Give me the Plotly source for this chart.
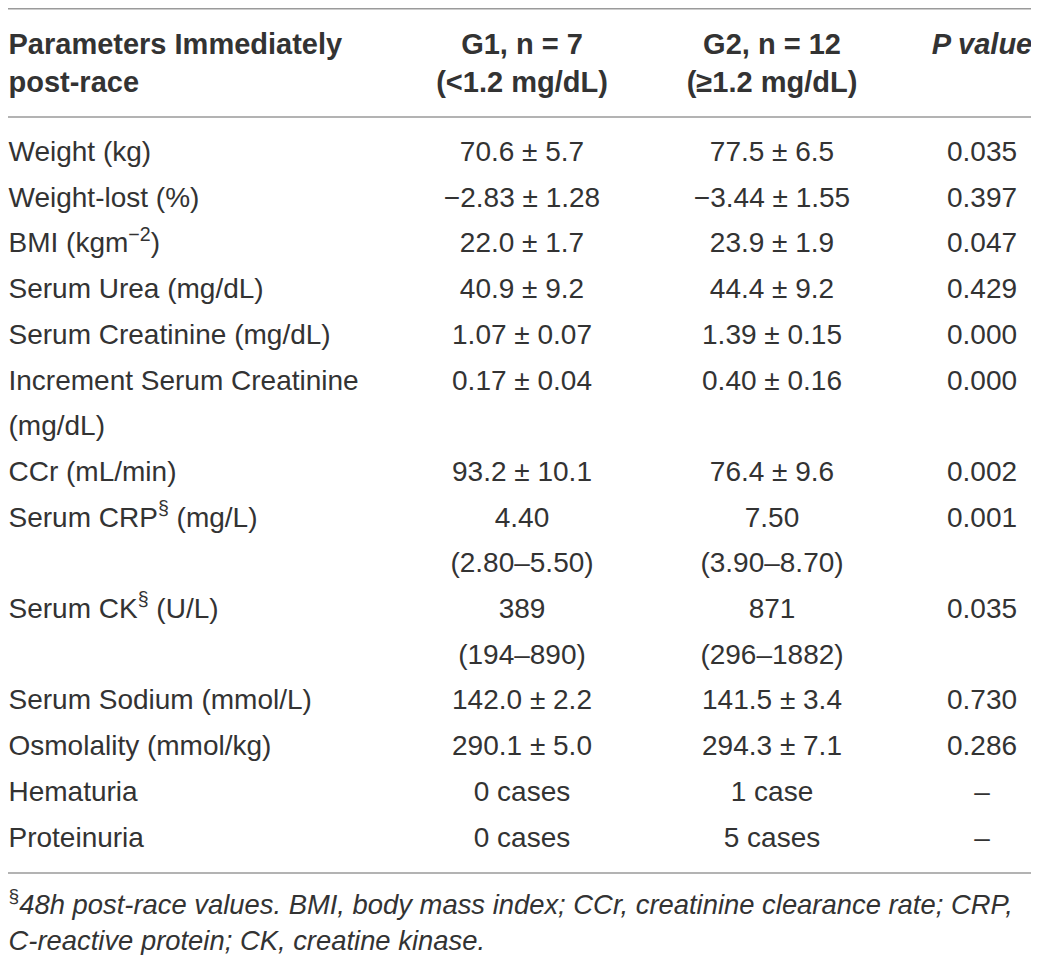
import plotly.graph_objects as go

# --- table content ---
HEADERS = ["<b>Parameters Immediately<br>post-race</b>",
           "<b>G1, n = 7<br>(<1.2 mg/dL)</b>",
           "<b>G2, n = 12<br>(≥1.2 mg/dL)</b>",
           "<b><i>P value</i></b>"]

PARAMS = ["Weight (kg)", "Weight-lost (%)", "BMI (kgm<sup>−2</sup>)",
          "Serum Urea (mg/dL)", "Serum Creatinine (mg/dL)",
          "Increment Serum Creatinine<br>(mg/dL)", "CCr (mL/min)",
          "Serum CRP<sup>§</sup> (mg/L)", "Serum CK<sup>§</sup> (U/L)",
          "Serum Sodium (mmol/L)", "Osmolality (mmol/kg)",
          "Hematuria", "Proteinuria"]

G1 = ["70.6 ± 5.7", "−2.83 ± 1.28", "22.0 ± 1.7", "40.9 ± 9.2",
      "1.07 ± 0.07", "0.17 ± 0.04", "93.2 ± 10.1", "4.40<br>(2.80–5.50)",
      "389<br>(194–890)", "142.0 ± 2.2", "290.1 ± 5.0", "0 cases", "0 cases"]

G2 = ["77.5 ± 6.5", "−3.44 ± 1.55", "23.9 ± 1.9", "44.4 ± 9.2",
      "1.39 ± 0.15", "0.40 ± 0.16", "76.4 ± 9.6", "7.50<br>(3.90–8.70)",
      "871<br>(296–1882)", "141.5 ± 3.4", "294.3 ± 7.1", "1 case", "5 cases"]

P_VALUES = ["0.035", "0.397", "0.047", "0.429", "0.000", "0.000", "0.002",
            "0.001", "0.035", "0.730", "0.286", "–", "–"]

FOOTNOTE = ["<sup>§</sup><i>48h post-race values. BMI, body mass index; CCr, creatinine clearance rate; CRP,</i>",
            "<i>C-reactive protein; CK, creatine kinase.</i>"]

# --- layout settings (page pixel coords; browser body margin is 8px) ---
PAGE_W, PAGE_H = 1039, 963
MARGIN = 8
FONT = "Liberation Sans"
FS = 28
HEAD_FS = 29
FOOT_FS = 27.4
COLOR = "#333333"
COL_X = [8.5, 522, 772, 982]
COL_POS = ["middle right", "middle center", "middle center", "middle center"]
HEAD_Y0, HEAD_STEP = 47, 38
BODY_Y0, BODY_STEP = 154, 45.7
RULE_Y = [8.8, 117, 873]
FOOT_Y = [907, 943]

fig = go.Figure()


def add_cell(col, y0, step, text, size):
    lines = text.split("<br>")
    # keep bold tags across the split
    if text.startswith("<b>"):
        lines = [l if l.startswith("<b>") else "<b>" + l for l in lines]
        lines = [l if l.endswith("</b>") else l + "</b>" for l in lines]
    fig.add_trace(go.Scatter(
        x=[COL_X[col]] * len(lines),
        y=[y0 + i * step for i in range(len(lines))],
        text=lines, mode="text", textposition=COL_POS[col], cliponaxis=False,
        textfont=dict(family=FONT, size=size, color=COLOR),
        hoverinfo="skip", showlegend=False))


for c, h in enumerate(HEADERS):
    add_cell(c, HEAD_Y0, HEAD_STEP, h, HEAD_FS)

line = 0
for row in zip(PARAMS, G1, G2, P_VALUES):
    y = BODY_Y0 + line * BODY_STEP
    for c, val in enumerate(row):
        add_cell(c, y, BODY_STEP, val, FS)
    line += max(v.count("<br>") + 1 for v in row)

fig.add_trace(go.Scatter(
    x=[COL_X[0]] * 2, y=FOOT_Y, text=FOOTNOTE, mode="text",
    textposition="middle right", cliponaxis=False,
    textfont=dict(family=FONT, size=FOOT_FS, color=COLOR),
    hoverinfo="skip", showlegend=False))

for ry in RULE_Y:
    fig.add_shape(type="line", x0=8, x1=1033, y0=ry, y1=ry, xref="x", yref="y",
                  line=dict(color="#9a9a9a", width=1.5))

W, H = PAGE_W - 2 * MARGIN, PAGE_H - 2 * MARGIN
fig.update_xaxes(range=[MARGIN, MARGIN + W], visible=False, fixedrange=True)
fig.update_yaxes(range=[MARGIN + H, MARGIN], visible=False, fixedrange=True)
fig.update_layout(width=W, height=H, margin=dict(l=0, r=0, t=0, b=0),
                  plot_bgcolor="white", paper_bgcolor="white")

fig.write_html("out.html")
